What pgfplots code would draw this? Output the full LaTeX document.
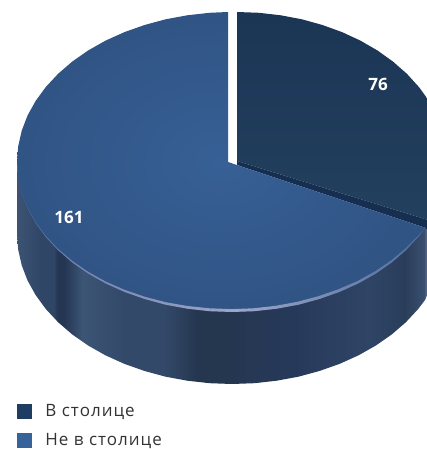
\documentclass[border=0pt]{standalone}
\usepackage{pgfplots}
\pgfplotsset{compat=1.18}
\usepackage{fontspec}
\setmainfont{Open Sans}
\newfontfamily\legfont[LetterSpace=6]{Open Sans}
\definecolor{darkA}{HTML}{1B3555}
\definecolor{darkB}{HTML}{23405F}
\definecolor{band}{HTML}{162E4F}
\definecolor{bigA}{HTML}{376096}
\definecolor{bigB}{HTML}{305484}
\definecolor{legA}{HTML}{1F3D62}
\definecolor{legB}{HTML}{38629A}
\definecolor{textc}{HTML}{333333}
\definecolor{w0}{HTML}{3C5372}\definecolor{w1}{HTML}{2F4666}\definecolor{w2}{HTML}{243652}
\definecolor{w3}{HTML}{3C5575}\definecolor{w4}{HTML}{33496A}\definecolor{w5}{HTML}{25374F}
\definecolor{w6}{HTML}{27395A}\definecolor{w7}{HTML}{2F4566}\definecolor{w8}{HTML}{2A3E5A}\definecolor{w9}{HTML}{3B5070}
\definecolor{r0}{HTML}{4A6A9A}\definecolor{r1}{HTML}{7485AE}\definecolor{r2}{HTML}{9CA6CA}\definecolor{r3}{HTML}{6F82AC}\definecolor{r4}{HTML}{4F6C9C}
\pgfdeclarehorizontalshading{wallshade}{100bp}{
 color(0bp)=(w0);
 color(25bp)=(w0);
 color(28bp)=(w1);
 color(29.5bp)=(w1);
 color(30bp)=(w2);
 color(30.8bp)=(w2);
 color(33bp)=(w3);
 color(38bp)=(w4);
 color(43bp)=(w4);
 color(47bp)=(w5);
 color(51bp)=(w5);
 color(59bp)=(w6);
 color(68bp)=(w7);
 color(72.5bp)=(w8);
 color(75bp)=(w9);
 color(100bp)=(w9)}
\pgfdeclarehorizontalshading{rimshade}{100bp}{
 color(0bp)=(r0);
 color(25bp)=(r0);
 color(32bp)=(r1);
 color(52bp)=(r2);
 color(66bp)=(r3);
 color(75bp)=(r4);
 color(100bp)=(r4)}
\begin{document}
\begin{tikzpicture}
\path[use as bounding box] (0,0) rectangle (427pt,449pt);
\begin{axis}[
 scale only axis, width=427pt, height=449pt,
 xmin=0, xmax=427, ymin=0, ymax=449, y dir=reverse,
 hide axis, clip=true,
 legend style={draw=none, fill=none, at={(0.0398,0.0)}, anchor=south west,
  font=\legfont\fontsize{17pt}{20pt}\selectfont\color{textc}, row sep=11pt, inner sep=0pt, outer sep=0pt},
 legend cell align=left,
 legend image code/.code={\fill[#1] (0pt,-7pt) rectangle (14pt,7pt);\path (26pt,0pt);},
]
% small slice wall sliver
\addplot[forget plot, draw=none, fill=w9!90!white] coordinates {(425,228)(428,221)(428,293)(425,300)} --cycle;
% small slice
\addplot[forget plot, draw=none, top color=darkA, bottom color=darkB] coordinates {
(237,161)(237,12)(258.9,12.8)(280.7,15.3)(301.9,19.3)(322.4,25)(342,32.1)(360.4,40.6)(377.5,50.5)(393,61.6)(406.9,73.8)(418.9,87)(427,98.1)(428,99)(428,220)(237,161)} --cycle;
% dark band under small slice
\addplot[forget plot, draw=none, fill=band] coordinates {
(237,161)(428,220)(428,230)(425.2,227.8)(237,165)} --cycle;
% wall of large slice
\addplot[forget plot, draw=none, shading=wallshade] coordinates {
(17,162)(17,234)(18.2,249.7)(21.7,265.2)(27.5,280.4)(35.6,295)(45.8,309)(58.1,322.2)(72.2,334.4)(88.1,345.5)(105.6,355.4)(124.5,363.9)(144.6,371)(165.6,376.7)(187.3,380.7)(209.5,383.2)(232,384)(254.5,383.2)(276.7,380.7)(298.4,376.7)(319.4,371)(339.5,363.9)(358.4,355.4)(375.9,345.5)(391.8,334.4)(405.9,322.2)(418.2,309)(425.2,299.8)(425.2,227.8)} --cycle;
% large slice
\addplot[forget plot, draw=none, inner color=bigA, outer color=bigB] coordinates {
(228,162)(228,12)(209.5,12.8)(187.3,15.3)(165.6,19.3)(144.6,25)(124.5,32.1)(105.6,40.6)(88.1,50.5)(72.2,61.6)(58.1,73.8)(45.8,87)(35.6,101)(27.5,115.6)(21.7,130.8)(18.2,146.3)(17,162)(18.2,177.7)(21.7,193.2)(27.5,208.4)(35.6,223)(45.8,237)(58.1,250.2)(72.2,262.4)(88.1,273.5)(105.6,283.4)(124.5,291.9)(144.6,299)(165.6,304.7)(187.3,308.7)(209.5,311.2)(232,312)(254.5,311.2)(276.7,308.7)(298.4,304.7)(319.4,299)(339.5,291.9)(358.4,283.4)(375.9,273.5)(391.8,262.4)(405.9,250.2)(418.2,237)(425.2,227.8)} --cycle;
% rim highlight
\addplot[forget plot, draw=none, shading=rimshade] coordinates {
(17,162)(18.2,177.7)(21.7,193.2)(27.5,208.4)(35.6,223)(45.8,237)(58.1,250.2)(72.2,262.4)(88.1,273.5)(105.6,283.4)(124.5,291.9)(144.6,299)(165.6,304.7)(187.3,308.7)(209.5,311.2)(232,312)(254.5,311.2)(276.7,308.7)(298.4,304.7)(319.4,299)(339.5,291.9)(358.4,283.4)(375.9,273.5)(391.8,262.4)(405.9,250.2)(418.2,237)(425.2,227.8)
(418.0,236)(405.5,248.4)(391.2,260.4)(375.2,271.3)(357.6,281)(338.6,289.2)(318.4,296.2)(297.4,301.8)(275.7,305.8)(253.5,308.3)(232,309.1)(209.5,308.3)(187.3,306)(165.6,302.2)(144.6,296.7)(124.5,289.8)(105.6,281.5)(88.1,271.8)(72.2,260.9)(58.1,249)(45.8,236)(35.6,222.3)(27.5,207.9)(21.7,192.9)(18.2,177.6)} --cycle;
\addlegendimage{legA,fill=legA}
\addlegendimage{legB,fill=legB}
\legend{В столице, Не в столице}
\node[font=\bfseries\fontsize{17pt}{20pt}\selectfont, text=white] at (axis cs:378,84) {76};
\node[font=\bfseries\fontsize{17pt}{20pt}\selectfont, text=white] at (axis cs:69,217) {161};
\end{axis}
\end{tikzpicture}
\end{document}
